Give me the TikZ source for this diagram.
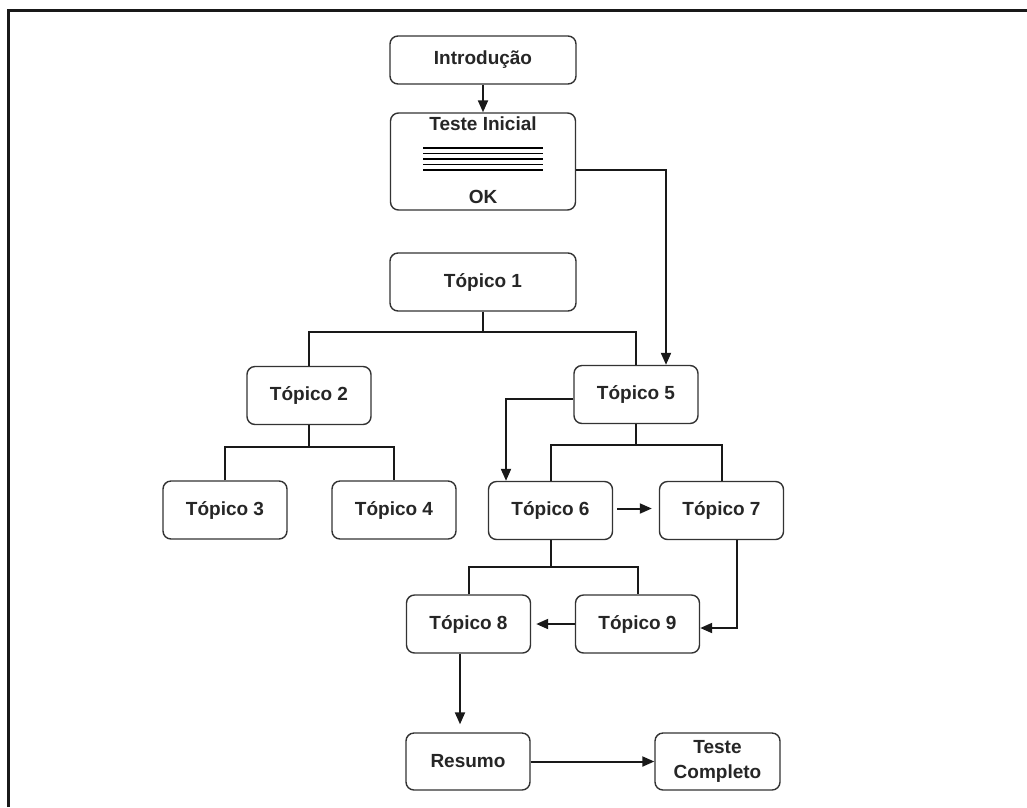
\documentclass[tikz,border=0pt]{standalone}
\usepackage{fontspec}
\setmainfont{Liberation Sans}
\usetikzlibrary{arrows.meta}
\begin{document}
\begin{tikzpicture}[x=1pt,y=-1pt,
  box/.style={draw=black!80, line width=1.4pt, rounded corners=8pt, inner sep=0pt,
    align=center, font=\fontsize{19}{25}\selectfont\bfseries, text=black!85},
  wide/.style={box, minimum width=186pt, minimum height=58pt},
  narrow/.style={box, minimum width=124pt, minimum height=58pt},
  conn/.style={line width=2pt, draw=black!90},
  arr/.style={conn, -{Triangle[length=12pt,width=10pt]}},
  lbl/.style={inner sep=0pt, font=\fontsize{19}{25}\selectfont\bfseries, text=black!85}]
\useasboundingbox (0,0) rectangle (1027,807);
\fill[white] (0,0) rectangle (1027,807);
% frame
\draw[line width=3pt, draw=black!90] (8,807) -- (8,10) -- (1027,10);

% nodes
\node[wide, minimum height=48pt] (intro) at (483,60) {Introdução};
\node[box, minimum width=185pt, minimum height=97pt] (ti) at (483,161.5) {};
\node[lbl] (tit) at (483,124) {Teste Inicial};
\node[lbl] (tiok) at (483,197) {OK};
\foreach \yy in {148,153.5,159,164.5,170} \draw[line width=1.7pt] (423,\yy) -- (543,\yy);

\node[wide] (t1) at (483,282) {Tópico 1};
\node[narrow] (t2) at (309,395.5) {Tópico 2};
\node[narrow] (t3) at (225,510) {Tópico 3};
\node[narrow] (t4) at (394,510) {Tópico 4};
\node[narrow] (t5) at (636,394.5) {Tópico 5};
\node[narrow] (t6) at (550.5,510.5) {Tópico 6};
\node[narrow] (t7) at (721.5,510.5) {Tópico 7};
\node[narrow] (t8) at (468.5,624) {Tópico 8};
\node[narrow] (t9) at (637.5,624) {Tópico 9};
\node[narrow, minimum height=57pt] (res) at (468,761.5) {Resumo};
\node[narrow, minimum height=57pt, minimum width=125pt] (tc) at (717.5,761.5) {Teste\\Completo};

% tree connectors
\coordinate (b1) at (483,332);
\draw[conn] (t1.south) -- (b1);
\draw[conn] (t2.north) |- (b1) -| (t5.north);
\coordinate (b2) at (309,447);
\draw[conn] (t2.south) -- (b2);
\draw[conn] (t3.north) |- (b2) -| (t4.north);
\coordinate (b3) at (636,445);
\draw[conn] (t5.south) -- (b3);
\draw[conn] (t6.north) |- (b3) -| (t7.north);
\coordinate (b4) at (550.5,567);
\draw[conn] (t6.south) -- (b4);
\draw[conn] (t8.north) |- (b4) -| (t9.north);

% arrows
\draw[arr] (intro.south) -- (ti.north);
\draw[arr] ([yshift=-8.5pt]ti.east) -| ([xshift=30pt]t5.north);
\draw[arr] ([yshift=-4.5pt]t5.west) -| ([xshift=-44.5pt]t6.north);
\draw[arr, shorten <=4pt, shorten >=7pt] ([yshift=2pt]t6.east) -- ([yshift=2pt]t7.west);
\draw[arr] ([xshift=15pt]t7.south) |- ([yshift=-4pt]t9.east);
\draw[arr, shorten >=5pt] (t9.west) -- (t8.east);
\draw[arr, shorten >=8pt] ([xshift=-8.5pt]t8.south) -- ([xshift=-8pt]res.north);
\draw[arr] (res.east) -- (tc.west);
\end{tikzpicture}
\end{document}
